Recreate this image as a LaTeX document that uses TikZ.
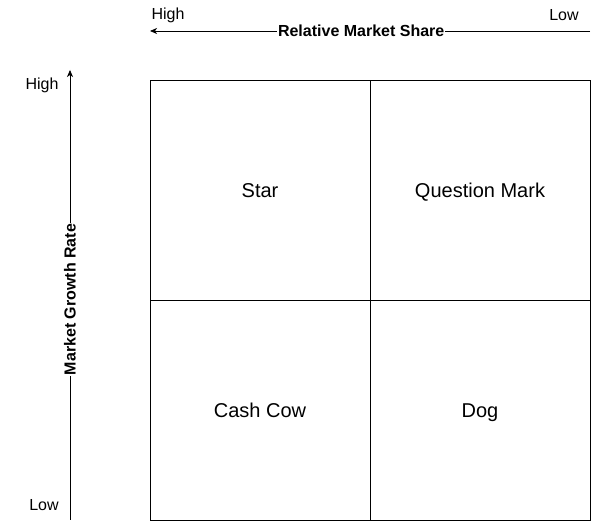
\documentclass[tikz,border=0pt]{standalone}
\usepackage{fontspec}
\setmainfont{Liberation Sans}
\usetikzlibrary{positioning,arrows.meta}

\begin{document}
\begin{tikzpicture}[x=1pt,y=1pt,on grid,node distance=220pt,
    cell/.style={draw,line width=0.8pt,minimum size=220pt,inner sep=0pt,text height=16pt,text depth=1pt,font=\fontsize{20}{24}\selectfont},
    axislabel/.style={fill=white,anchor=center,inner sep=1pt,font=\bfseries\fontsize{16}{19}\selectfont},
    endlabel/.style={inner sep=0pt,font=\fontsize{16}{19}\selectfont},
    >={Stealth[length=7pt,width=6pt,inset=2pt]}]
   \useasboundingbox (0,0) rectangle (599,529);
   \node[cell] (star)  at (260,339) {Star};
   \node[cell] (qmark) [right=of star] {Question Mark};
   \node[cell] (cow)   [below=of star] {Cash Cow};
   \node[cell] (dog)   [right=of cow] {Dog};
   \coordinate (shareLow)  at (590,498);
   \coordinate (shareHigh) at (150,498);
   \coordinate (growthLow)  at (70,9);
   \coordinate (growthHigh) at (70,459);
   \node[endlabel] (hs) at (168,514) {High};
   \node[endlabel] (ls) at (564,514) {Low};
   \node[endlabel] (hg) at (42,444) {High};
   \node[endlabel] (lg) at (44,24) {Low};
   \path[->,line width=0.8pt]
        (shareLow) edge node[axislabel,pos=0.52] {Relative Market Share} (shareHigh)
        (growthLow) edge node[axislabel,rotate=90,pos=0.49] {Market Growth Rate} (growthHigh)
        ;
\end{tikzpicture}
\end{document}
